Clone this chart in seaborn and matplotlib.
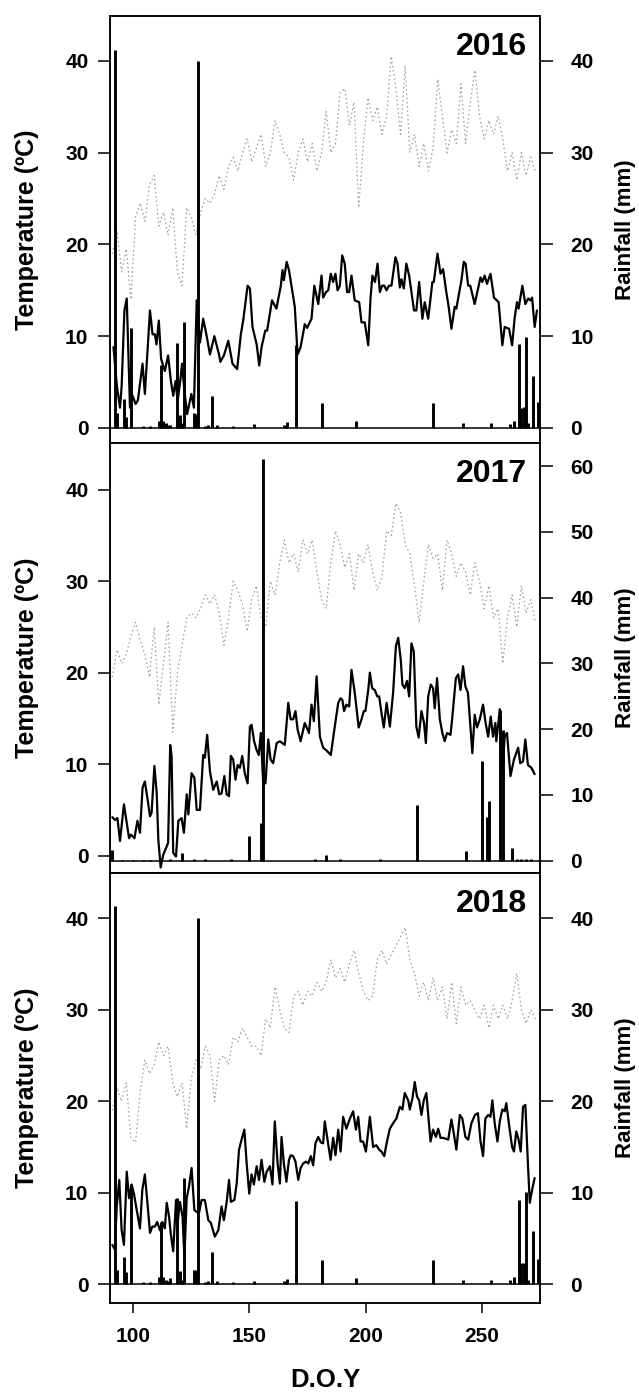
import matplotlib
matplotlib.use("Agg")
import matplotlib.pyplot as plt
import seaborn as sns

# ---- data ----
# max temperature, every second day from DOY 91
max_doy = list(range(91, 274, 2))
max_2016 = [19, 21.5, 17, 19.5, 14, 23, 24.5, 22.5, 26.5, 27.5, 22, 23.5, 21, 24, 17, 15.5,
            24, 23, 21, 23.5, 25, 24.5, 25.5, 27.5, 26, 28.5, 29.5, 28, 30, 31.5, 29, 30.5,
            32, 28.5, 30, 33.5, 32, 30, 29.5, 27, 30, 31.5, 29, 31, 28, 30, 34.5, 30,
            31, 36.5, 37, 33, 35.5, 24, 31, 36, 33.5, 35, 32, 34, 40.5, 37, 32, 39.5,
            30, 32, 28.5, 31, 28, 30.5, 38, 34, 30, 32.5, 31, 37.5, 31, 35.5, 39, 34,
            31.5, 33.5, 32, 34, 31.5, 28, 30, 27, 30, 27.5, 29.5, 28]
max_2017 = [19.5, 22.5, 21, 22, 24, 25.5, 23.5, 22, 19.5, 25, 16.5, 21, 25.5, 13.5, 20, 23,
            26, 26.5, 26, 27, 28.5, 27.5, 28.5, 26.5, 23, 26, 30, 29, 27.5, 24.5, 28, 29.5,
            26, 25, 30, 28.5, 32, 34.5, 32, 33, 31, 34.5, 33, 34.5, 31, 28, 27, 32,
            35.5, 34, 31.5, 33, 29, 33, 32, 34, 31, 29, 30.5, 35.5, 35, 38.5, 37.5, 34,
            33, 29.5, 25.5, 30, 34, 32.5, 33, 29, 34.5, 33, 30.5, 32, 31, 28.5, 32, 30,
            27, 29.5, 26, 27, 21, 26, 28.5, 25, 29.5, 26.5, 28, 25.5]
max_2018 = [19, 21.5, 20, 22, 16, 15.5, 21, 24.5, 23, 24, 26.5, 25, 26, 22, 20.5, 22,
            17, 22.5, 24.5, 23.5, 26, 25, 20, 24.5, 25, 24, 27, 26.5, 28, 27, 26, 26,
            25, 29, 28, 32.5, 30, 28, 27.5, 31.5, 32, 30.5, 32, 31.5, 33, 32, 33, 35.5,
            33.5, 34.5, 33, 35, 36.5, 34, 32, 31, 31.5, 35.5, 36.5, 35, 36, 37, 38, 39,
            35.5, 34, 31.5, 33, 31, 33.5, 31, 32.5, 29, 33, 28.5, 32.5, 30.5, 31, 30, 29,
            30.5, 28, 30.5, 29, 30.5, 29, 31, 34, 30, 28.5, 30, 29]

# min temperature
min_doy_2016 = [91.5, 93, 94.3, 95, 96.2, 97.2, 98.6, 99.7, 101, 102, 104, 105, 107.2, 108.3,
                109.3, 110, 111, 112, 113.6, 115, 116.2, 117.2, 118.2, 119.1, 120.4, 121, 122,
                123.2, 125, 126.1, 127.3, 128.7, 130.1, 131.6, 133, 134.9, 136.9, 137.5, 139,
                140.9, 142.7, 144.7, 146.3, 147.3, 149.2, 150.2, 151.3, 153.1, 154.2, 155.2,
                156.8, 157.6, 159.7, 161.6, 163.5, 164.2, 164.8, 166, 167, 169.5, 170.7, 172,
                173.8, 174.8, 176.7, 177.9, 179.6, 181, 181.7, 182.9, 183.9, 185, 186, 187,
                187.9, 188.9, 189.9, 191, 192, 192.9, 193.9, 195.3, 197.2, 198.2, 199.6, 201.1,
                202.1, 202.9, 204, 205.1, 206.1, 207.1, 208, 209, 210, 211.1, 212.8, 213.7,
                214.7, 215.4, 216.4, 217.5, 218.7, 220.8, 221.8, 223, 224.4, 225.4, 226.9,
                228.7, 229.3, 230.9, 232.2, 233.3, 234.7, 235.7, 236.9, 238.3, 239, 241.2,
                242.2, 243, 244.1, 245, 246.9, 248.6, 249.4, 250.2, 251.2, 252.2, 253.7, 255.2,
                257.2, 258.8, 259.8, 261.7, 263, 264.1, 265.1, 265.8, 267.4, 268.7, 269.9,
                270.9, 271.6, 272.7, 273.7]
min_2016 = [8.8, 4.5, 2.2, 4.5, 12.8, 14.1, 2.2, 3.5, 2.6, 3.0, 7, 3.7, 12.8, 10.2,
            10.2, 9.1, 11.7, 7.5, 6.2, 7.9, 5.1, 3.5, 5.1, 2.9, 5.5, 7, 4,
            1.5, 3.7, 2.2, 13.9, 9.3, 11.9, 10, 8, 10, 8, 7.2, 7.9,
            9.5, 7, 6.4, 10.2, 11.7, 15.5, 15.2, 11, 9.1, 6.8, 8.8,
            10.6, 10.6, 13.9, 13, 15.5, 17.2, 16.1, 18.1, 17.2, 13.2, 8, 8.8,
            11.3, 10.9, 11.9, 15.5, 13.5, 16.6, 14.2, 14.8, 15, 16.8, 15.9, 16.8,
            15, 15.5, 18.8, 17.9, 14.8, 14.8, 16.6, 13.9, 13.7, 11.5, 11.5, 9,
            14.2, 16.6, 15.9, 17.9, 14.8, 15.5, 15.5, 15, 15.5, 15.5, 18.6, 17.9,
            15.3, 16.2, 15.2, 17.9, 16.6, 12.8, 12.8, 15.9, 11.9, 13.7, 11.9,
            15.9, 15.9, 19, 16.8, 17.3, 14.8, 13.2, 10.8, 13.2, 13, 16.1,
            18.1, 17.9, 15.5, 15.5, 13.5, 15.5, 16.4, 15.9, 16.6, 15.7, 16.8, 14.2,
            13.7, 9, 11, 10.8, 9, 12, 13.7, 13, 15.5, 13.5, 14.1,
            13.9, 14.2, 11, 12.8]

min_doy_2017 = [91, 92.1, 93.2, 94.3, 96, 97.2, 98.2, 99, 100.5, 101.8, 102.9, 104, 105, 106.2,
                107.2, 107.9, 109.1, 110.1, 110.8, 111.8, 112.9, 114.4, 115, 115.9, 116.5, 117.2,
                118.4, 119.4, 120.8, 121.8, 123, 123.7, 125.1, 126.3, 127.3, 128.7, 130.1, 130.8,
                131.8, 133, 134.4, 135.9, 137, 138, 139.2, 140.2, 141.2, 142, 143, 144, 144.9,
                145.9, 146.9, 148, 149.2, 150.2, 150.9, 152, 153, 154, 154.9, 155.9, 156.9,
                158.1, 159.1, 160.2, 161.7, 163.1, 165.2, 166.7, 167.7, 168.8, 169.8, 170.7,
                172, 173.8, 175.6, 176.7, 177.7, 178.9, 180.3, 181.7, 183.1, 185, 186.7, 188.2,
                189.2, 190, 190.7, 191.7, 192.9, 193.9, 195.3, 197, 198.2, 199.2, 199.9, 201.1,
                201.8, 202.8, 203.9, 205, 205.8, 206.8, 207.8, 209, 210.4, 211.8, 213, 214,
                215.1, 215.8, 216.8, 217.8, 218.7, 219.7, 220.7, 221.8, 222.8, 224, 225.1,
                225.9, 226.9, 228, 229, 229.7, 230.7, 231.9, 233, 234, 235, 236.5, 237.3,
                238.8, 239.8, 240.8, 241.9, 242.9, 244, 244.8, 245.9, 246.9, 247.9, 249.1,
                250.5, 251.6, 252.7, 253.8, 254.8, 255.8, 256.2, 257, 257.7, 258.8, 259.8,
                260.8, 262.3, 263.8, 265.6, 266.5, 267.7, 268.7, 269.8, 271.3, 272.7]
min_2017 = [4.2, 3.9, 4.1, 1.6, 5.6, 3.6, 1.9, 2.3, 1.9, 3.8, 2.5, 7.4, 8.1, 6.1,
            4.3, 4.7, 9.8, 6.8, 1.7, -1.3, 0.1, 1, 1.4, 12.1, 10.9, 0.3,
            -0.1, 3.8, 4.1, 2.5, 6.7, 4.5, 9, 8.5, 5, 5, 11, 10.7,
            13.2, 9.2, 7.2, 8.1, 6.7, 6.8, 8.7, 6.7, 6.5, 10.9, 10.5, 8.3, 9.9,
            9.6, 10.9, 9, 7.9, 14.1, 14.3, 12.5, 11.6, 11, 13.4, 7.9, 7.9,
            12.7, 10.5, 10.1, 12.3, 12.5, 12.1, 16.7, 14.9, 14.9, 15.8, 13.8,
            12.5, 14.5, 13.4, 16.5, 14.7, 19.6, 13, 11.8, 11.5, 11, 14.1, 16.7,
            17.2, 17, 15.8, 16.5, 16.3, 20.3, 17.8, 14, 14.9, 15.8, 15.8, 18.1,
            20, 18.3, 18.1, 17.4, 17.4, 15.6, 14, 16.7, 14.1, 17.8, 22.9, 23.8,
            21.4, 18.7, 18.3, 19.1, 17.4, 23.2, 22.3, 14.1, 12.9, 15.8, 14.5,
            12.3, 17.4, 18.7, 18.3, 16.1, 19.4, 14.9, 13.4, 12.5, 13.4, 13.2, 15.2,
            19.4, 19.8, 18.1, 20.7, 18.5, 17.8, 15, 11.2, 15.4, 14, 14.9,
            16.5, 14.5, 13, 15.2, 13, 14.5, 12.5, 14.3, 16, 9, 13,
            13.4, 8.7, 10.5, 11.8, 10.1, 10.3, 12.7, 9.9, 9.6, 8.9]

min_doy_2018 = [91, 92.1, 92.9, 94, 95, 96, 97.2, 98.2, 99.3, 100.3, 101.5, 102.9, 103.9, 105,
                106, 107.2, 108.2, 109.3, 110.3, 111.5, 112.5, 113.6, 114.4, 115.4, 116.2, 117.2,
                118.4, 119.1, 120.1, 121.2, 122, 123, 124, 125.1, 126.3, 127.3, 128.3, 129.4,
                130.8, 132.3, 133.4, 135.1, 136.6, 138, 139, 140.2, 141.2, 142, 143.5, 144.5,
                145.5, 146.6, 147.8, 148.8, 149.9, 150.9, 151.9, 153.1, 154.1, 155.2, 156.4,
                157.4, 158.8, 159.9, 160.9, 162.1, 163.1, 163.8, 164.8, 165.9, 167, 167.8,
                168.8, 169.8, 171, 172, 173.1, 174.3, 175.3, 176.4, 177.4, 178.4, 179.6,
                180.7, 181.7, 182.4, 183.4, 184.9, 186, 187, 188.2, 189.2, 190.3, 191.7, 193.2,
                194.6, 195.8, 196.8, 197.8, 198.9, 200.1, 201.8, 203.2, 204.6, 205.8, 206.8,
                208, 209, 210.4, 211.8, 213.2, 214.7, 215.8, 216.8, 218.3, 219, 220.1, 221.1,
                222.1, 223, 224, 225, 226.1, 227.9, 229, 230.2, 231.2, 232.2, 233.3, 235.5,
                236.9, 237.9, 239, 240.5, 241.6, 242.9, 244.1, 245.5, 247, 248.3, 249.4, 250.5,
                251.5, 252.7, 253.7, 254.5, 255.5, 256.7, 257.7, 258.8, 259.8, 260.5, 261.7,
                263, 263.8, 264.8, 265.8, 266.7, 267.7, 268.7, 269.8, 270.6, 271.6, 272.7]
min_2018 = [4.3, 3.8, 8.5, 11.4, 5.9, 4.3, 12.3, 9.4, 10.9, 9.9, 8.1, 6.1, 10.3, 12,
            9.2, 5.6, 6.3, 6.3, 6.8, 5.9, 6.8, 6.1, 8.9, 7.4, 5.4, 3.6,
            9.2, 6.7, 9, 7.4, 3, 9.4, 10.7, 12.7, 8.1, 7.9, 7.8, 9.2,
            9.2, 7, 6.7, 5.2, 5.9, 8.5, 7, 9, 11.4, 9, 9.2, 11,
            14.7, 15.8, 16.9, 13.2, 9.9, 12, 10.9, 12.9, 11.4, 13.6, 11.2,
            12.3, 12.9, 10.9, 17.8, 13.2, 11, 16.1, 13.2, 11.2, 13.6, 14.1,
            14, 13.4, 11.4, 12.7, 13.2, 13.4, 13.2, 14, 13, 15.4, 16.1,
            15.5, 15.4, 17.8, 16.1, 13.6, 16, 14.1, 16.9, 14.5, 18.3, 17, 18.1,
            18.9, 16.9, 18.3, 15.6, 15.6, 14.5, 18.3, 15, 15.2, 14.7, 14.5,
            14, 15.4, 17, 17.6, 18.1, 19.4, 19.1, 20.9, 20.1, 19.1, 20.3, 22.1,
            20.5, 20.1, 18.5, 20.1, 20.9, 15.6, 16.9, 16.1, 17, 16, 16, 15.8,
            18, 16.5, 14.7, 18.5, 18.1, 16.1, 15.8, 17.6, 18.5, 18.7, 15.6, 14,
            18.1, 18.5, 18.3, 20.1, 17.6, 15.6, 17.8, 19.1, 18.9, 19.8, 17.4,
            15, 14.5, 16.7, 15.8, 14.5, 19.4, 19.6, 13.2, 8.9, 10.3, 11.6]

# rainfall (only days with rain)
rain_doy_2016 = [92, 93, 96, 97, 99, 104, 107, 111, 112, 113, 114, 115, 116, 119, 120, 121, 122,
                 126, 127, 128, 131, 132, 134, 136, 143, 152, 165, 166, 170, 181, 196, 229, 242,
                 254, 262, 264, 266, 267, 268, 269, 270, 272, 274]
rain_2016 = [41.2, 1.6, 3.1, 1.2, 10.9, 0.2, 0.2, 0.8, 6.8, 0.8, 0.5, 0.3, 0.3, 9.3, 1.4, 0.5, 11.5,
             1.6, 1.5, 40, 0.2, 0.3, 3.5, 0.3, 0.2, 0.4, 0.3, 0.6, 9, 2.7, 0.7, 2.7, 0.5,
             0.5, 0.4, 0.8, 9.1, 2.2, 2.3, 9.9, 0.5, 5.7, 2.8]
rain_doy_2017 = [91, 95, 100, 104, 107, 116, 121, 126, 131, 142, 150, 155, 156, 178, 183, 189,
                 206, 222, 243, 250, 252, 253, 258, 259, 263, 265, 267, 269, 271]
rain_2017 = [1.7, 0.1, 0.1, 0.1, 0.1, 0.2, 1.1, 0.2, 0.2, 0.2, 3.8, 5.7, 61, 0.3, 0.9, 0.2,
             0.2, 8.5, 1.4, 15.1, 6.7, 9, 22.9, 19.9, 2, 0.2, 0.2, 0.2, 0.2]
rain_doy_2018 = [92, 93, 96, 97, 99, 104, 107, 111, 112, 113, 114, 115, 116, 119, 120, 121, 122,
                 126, 127, 128, 131, 132, 134, 136, 143, 152, 165, 166, 170, 181, 196, 229, 242,
                 254, 262, 264, 266, 267, 268, 269, 270, 272, 274]
rain_2018 = [41.3, 1.6, 3, 1.3, 11, 0.2, 0.2, 0.8, 6.8, 0.8, 0.5, 0.3, 0.7, 9.4, 1.4, 0.5, 11.6,
             1.6, 1.5, 40, 0.2, 0.3, 3.5, 0.3, 0.2, 0.4, 0.3, 0.6, 9.1, 2.7, 0.7, 2.7, 0.5,
             0.5, 0.5, 0.8, 9.2, 2.3, 2.3, 10.1, 0.5, 5.8, 2.8]

years = ['2016', '2017', '2018']
max_series = [max_2016, max_2017, max_2018]
min_doys = [min_doy_2016, min_doy_2017, min_doy_2018]
min_series = [min_2016, min_2017, min_2018]
rain_doys = [rain_doy_2016, rain_doy_2017, rain_doy_2018]
rain_series = [rain_2016, rain_2017, rain_2018]

temp_ticks = [0, 10, 20, 30, 40]
rain_ticks = [[0, 10, 20, 30, 40], [0, 10, 20, 30, 40, 50, 60], [0, 10, 20, 30, 40]]
doy_ticks = [100, 150, 200, 250]

# ---- style ----
sns.set_style("ticks")
plt.rcParams['font.family'] = ['Liberation Sans', 'DejaVu Sans']
plt.rcParams['font.weight'] = 'bold'
for key in ['text.color', 'axes.labelcolor', 'xtick.color', 'ytick.color',
            'xtick.labelcolor', 'ytick.labelcolor', 'axes.edgecolor']:
    plt.rcParams[key] = 'black'

W, H = 639, 1396
fig = plt.figure(figsize=(W / 100, H / 100), dpi=100)

# panel boxes in pixels (top, bottom)
boxes = [(16, 443), (443, 873), (873, 1302.5)]
temp_lims = [(-1.65, 44.9), (-1.9, 45.1), (-2.0, 44.95)]
rain_lims = [(-1.65, 44.9), (-1.87, 63.5), (-2.0, 44.95)]
left_px, right_px = 110, 540
tick_fs = 15

for i in range(3):
    top, bot = boxes[i]
    ax = fig.add_axes([left_px / W, 1 - bot / H, (right_px - left_px) / W, (bot - top) / H])
    sns.lineplot(x=max_doy, y=max_series[i], ax=ax, color='#9a9a9a', linewidth=0.9,
                 linestyle=(0, (1.2, 2.2)))
    sns.lineplot(x=min_doys[i], y=min_series[i], ax=ax, color='black', linewidth=1.6)
    ax.set_xlim(90, 275)
    ax.set_ylim(*temp_lims[i])
    ax.set_yticks(temp_ticks)
    ax.set_xticks(doy_ticks)
    ax.set_xlabel('')
    ax.set_ylabel('')
    ax.tick_params(axis='y', length=8.5, width=1.1, pad=7, labelsize=tick_fs, direction='out')
    if i < 2:
        ax.tick_params(axis='x', bottom=False, labelbottom=False)
    else:
        ax.tick_params(axis='x', length=7, width=1.1, pad=11, labelsize=tick_fs, direction='out')

    ax2 = ax.twinx()
    ax2.vlines(rain_doys[i], 0, rain_series[i], colors='black', linewidth=2.1)
    ax2.axhline(0, color='black', linewidth=1.1)
    ax2.set_ylim(*rain_lims[i])
    ax2.set_yticks(rain_ticks[i])
    ax2.tick_params(axis='y', length=9, width=1.1, pad=13, labelsize=tick_fs, direction='out')
    ax2.set_xlim(90, 275)

    for a in (ax, ax2):
        for s in a.spines.values():
            s.set_linewidth(1.1)
            s.set_color('black')
            s.set_visible(True)
        for lab in a.get_xticklabels() + a.get_yticklabels():
            lab.set_fontweight('bold')

    ax.text(0.969, 0.909, years[i], transform=ax.transAxes, ha='right', va='baseline',
            fontsize=23, fontweight='bold')

    yc = 1 - (top + bot) / 2 / H
    fig.text(27 / W, yc, 'Temperature (ºC)', rotation=90, ha='center', va='center',
             fontsize=18, fontweight='bold')
    fig.text(626 / W, yc, 'Rainfall (mm)', rotation=90, ha='center', va='center',
             fontsize=16, fontweight='bold')

fig.text(325 / W, 4 / H, 'D.O.Y', ha='center', va='bottom', fontsize=18.5, fontweight='bold')

fig.savefig('out.png', dpi=100)
